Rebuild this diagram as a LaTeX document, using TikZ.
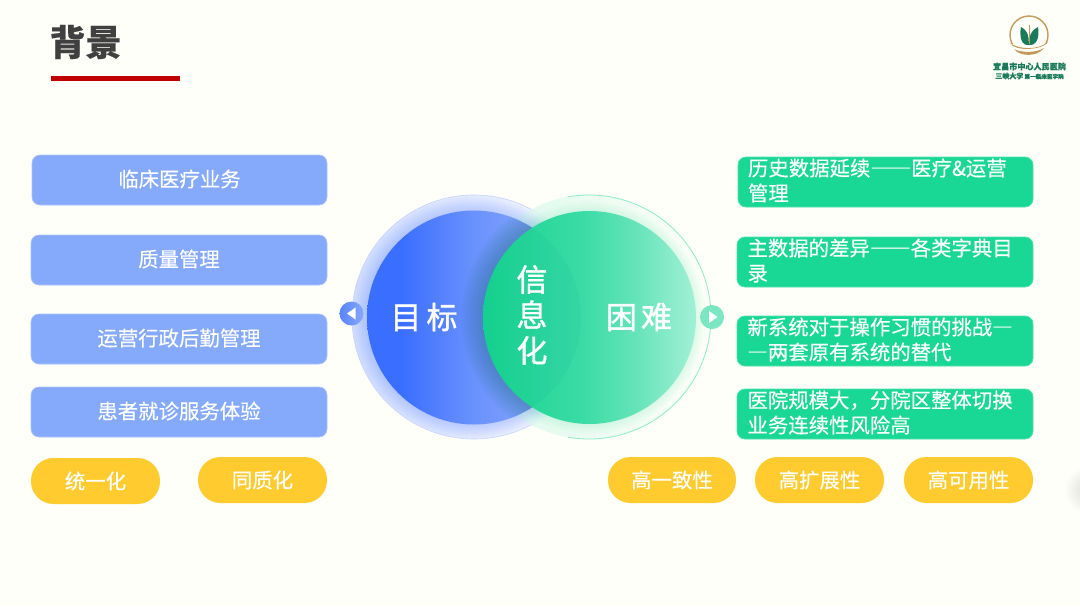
\documentclass[tikz,border=0pt]{standalone}
\usepackage{fontspec}
\setmainfont[FakeBold=0.35]{Noto Sans CJK SC}
\newfontfamily\bigcjk[FakeBold=1.2]{Noto Sans CJK SC}
\newfontfamily\fwcjk[FakeBold=0.35,RawFeature=+fwid]{Noto Sans CJK SC}
\newcommand{\fwd}{{\fwcjk —}}
\newcommand{\lastd}{\rule[-4.6pt]{0pt}{0pt}}
\definecolor{bg}{HTML}{FEFFF8}
\definecolor{lbox}{HTML}{85A9FB}
\definecolor{rbox}{HTML}{19D795}
\definecolor{rboxb}{HTML}{4FE2B1}
\definecolor{pill}{HTML}{FFCB2E}
\definecolor{barred}{HTML}{C00000}
\definecolor{titlec}{HTML}{404040}
\definecolor{logog}{HTML}{1B7A5A}
\definecolor{logod}{HTML}{C39A5A}
\definecolor{ba}{HTML}{3A6EFF}\definecolor{bb}{HTML}{6A92FC}\definecolor{bc}{HTML}{93B1FA}
\definecolor{ga}{HTML}{16D690}\definecolor{gb}{HTML}{3ADBA5}\definecolor{gc}{HTML}{62E3B7}\definecolor{gd}{HTML}{A2F0D6}
\pgfdeclarehorizontalshading{blueball}{100bp}{color(0bp)=(ba);color(33bp)=(ba);color(50bp)=(bb);color(75bp)=(bc);color(100bp)=(bc)}
\pgfdeclarehorizontalshading{greenball}{100bp}{color(0bp)=(ga);color(25bp)=(ga);color(48bp)=(gb);color(60bp)=(gc);color(75bp)=(gd);color(100bp)=(gd)}
\tikzset{
 base/.style={text=white,font=\fontsize{20.4}{25}\selectfont,inner sep=0pt},
 lboxn/.style={base,fill=lbox,draw=lbox!70!white,line width=.6pt,rounded corners=8pt,minimum width=295pt,minimum height=49pt,text height=18pt,text depth=4.4pt},
 rboxn/.style={base,fill=rbox,draw=rboxb,line width=.8pt,rounded corners=8pt,minimum width=295pt,minimum height=49pt,text width=275pt,align=left},
 pilln/.style={base,fill=pill,rounded corners=22.5pt,minimum width=129pt,minimum height=46pt},
 bigl/.style={text=white,inner sep=0pt,font=\bigcjk\fontsize{31}{35.5}\selectfont,align=center},
 badge/.style={minimum size=24pt,circle,inner sep=0pt},
}
\begin{document}
\begin{tikzpicture}[x=1pt,y=-1pt]
\useasboundingbox (0,0) rectangle (1080,606);
\fill[bg] (0,0) rectangle (1080,606);
\shade[inner color=black!13!bg,outer color=bg] (1088,490) circle[radius=24];
% title
\node[anchor=center,text=titlec,inner sep=0pt,font=\fontsize{36}{40}\bfseries\selectfont] (title) at (85.5,42) {背景};
\fill[barred] (51,76) rectangle (180,81);
% logo
\draw[logod,line width=1.4pt] (1029,35) circle[radius=19];
\fill[bg] (1008,44) rectangle (1050,56);
\fill[logod] (1010,43) .. controls (1020,50) and (1038,50) .. (1048,42) .. controls (1043,50) and (1015,52) .. (1010,43);
\fill[logod] (1014,49) .. controls (1022,53) and (1036,53) .. (1044,48) .. controls (1038,57) and (1020,57) .. (1014,49);
\fill[logog] (1029,45) .. controls (1022,46) and (1019,38) .. (1021,27) .. controls (1025,29) and (1028,33) .. (1028.5,38) -- cycle;
\fill[logog] (1029,45) .. controls (1036,46) and (1040,38) .. (1038,27) .. controls (1034,29) and (1030,33) .. (1029.5,38) -- cycle;
\draw[logod,line width=.6pt] (1029,25) -- (1029,44);
\node[inner sep=0pt,text=logog,font=\fontsize{8.1}{9}\bfseries\selectfont] (logo1) at (1029.5,66.5) {宜昌市中心人民医院};
\node[inner sep=0pt,text=logog,font=\fontsize{7}{8}\bfseries\selectfont] (logo2) at (1029.5,76) {三峡大学\,\fontsize{5.6}{7}\selectfont 第一临床医学院};
% left boxes
\node[lboxn,minimum height=50pt] (l1) at (179.5,180) {临床医疗业务};
\node[lboxn,minimum width=296pt,minimum height=50pt] (l2) at (179,260) {质量管理};
\node[lboxn,minimum width=296pt,minimum height=50pt] (l3) at (179,339) {运营行政后勤管理};
\node[lboxn,minimum width=296pt,minimum height=50pt] (l4) at (179,412) {患者就诊服务体验};
\node[pilln] (p1) at (95.5,481) {统一化};
\node[pilln] (p2) at (262.5,480) {同质化};
% right boxes
\node[rboxn,minimum height=50pt] (r1) at (885.5,182) {历史数据延续\fwd\fwd 医疗\&运营\\管理\lastd};
\node[rboxn,minimum width=296pt,minimum height=50pt] (r2) at (885,262) {主数据的差异\fwd\fwd 各类字典目\\录\lastd};
\node[rboxn,minimum width=296pt,minimum height=50pt] (r3) at (885,341) {新系统对于操作习惯的挑战\fwd\\\fwd 两套原有系统的替代\lastd};
\node[rboxn,minimum width=296pt,minimum height=50pt] (r4) at (885,414) {医院规模大，分院区整体切换\\业务连续性风险高\lastd};
\node[pilln,minimum width=128pt] (p3) at (672,480) {高一致性};
\node[pilln] (p4) at (819.5,480) {高扩展性};
\node[pilln] (p5) at (968.5,480) {高可用性};
% venn
\shade[left color=ba!24!white,right color=ba!5!white,draw=ba!30!white,line width=.6pt] (474,317) circle[radius=122];
\shade[left color=ga!20!white,right color=bg,fill opacity=.8] (589,317) circle[radius=122];
\begin{scope}
 \clip (474,317) circle[radius=122];
 \foreach \r in {108,110,112,114,116,118,120}
  \fill[ba,fill opacity=.035] (474,317.5) circle[radius=\r];
\end{scope}
\begin{scope}
 \clip (589,317) circle[radius=122];
 \foreach \r in {108,110,112,114,116}
  \fill[ga,fill opacity=.025] (589.5,317.5) circle[radius=\r];
\end{scope}
\shade[shading=blueball] (474,317.5) circle[radius=107];
\begin{scope}
 \clip (474,317.5) circle[radius=107];
 \foreach \r in {107,110,113,116,119,122,125,128}
  \fill[teal!70!black,fill opacity=.045] (589.5,317.5) circle[radius=\r];
\end{scope}
\draw[rbox!50!white,line width=.8pt] (589,317) ++(-100:122) arc[start angle=-100,end angle=100,radius=122];
\shade[shading=greenball] (589.5,317.5) circle[radius=106.5];
\begin{scope}
 \clip (589.5,317.5) circle[radius=106.5];
 \fill[teal,fill opacity=.06] (474,317.5) circle[radius=107];
\end{scope}
\node[badge,left color=ba!85!white,right color=bb!80!white] (bl) at (351.5,313.5) {};
\node[badge,fill=gc!85!white] (br) at (712,317) {};
\fill[white] ([xshift=-4.5pt]bl.center) -- ++(8.5,-6) -- ++(0,12) -- cycle;
\fill[white] ([xshift=5.5pt]br.center) -- ++(-8.5,-6) -- ++(0,12) -- cycle;
\node[bigl] (goal) at (424,317) {目\hspace{5pt}标};
\node[bigl] (hard) at (639,317) {困\hspace{4pt}难};
\node[bigl] (info) at (532,315) {信\\息\\化};
\end{tikzpicture}
\end{document}
